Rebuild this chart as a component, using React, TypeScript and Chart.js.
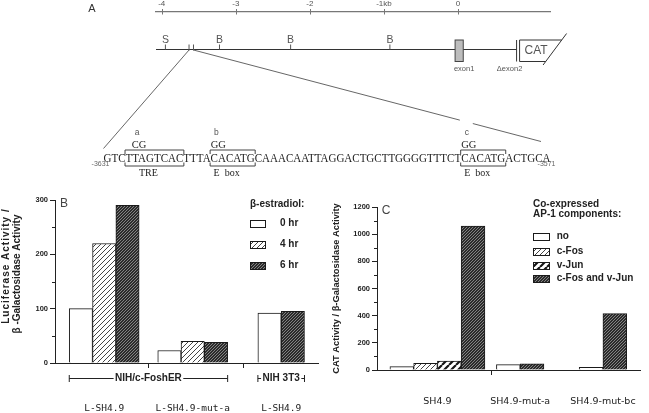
import React, { useEffect, useRef } from 'react';
import { Chart, registerables } from 'chart.js';

Chart.register(...registerables);

// ---------- Panel A : promoter map ----------
const mapTickValues = [-4, -3, -2, -1, 0];
const mapTickLabels = ['-4', '-3', '-2', '-1kb', '0'];
const mapSiteLabels = ['S', 'B', 'B', 'B'];
const mapSiteKb = [-3.95, -3.22, -2.26, -0.92];
const zoomRegionKb = [-3.631, -3.571];
const exon1Kb = [-0.04, 0.07];
const exon2Kb = 0.79;
const promoterSequence = 'GTCTTAGTCACTTTACACATGCAAACAATTAGGACTGCTTGGGGTTTCTCACATGACTGCA';
const sequenceEndLabels = ['-3631', '-3571'];
const motifNames = ['TRE', 'E  box', 'E  box'];
const motifFrom = [3, 15, 49];
const motifTo = [10, 20, 54];
const mutationTags = ['a', 'b', 'c'];
const mutationBases = ['CG', 'GG', 'GG'];
const mutationAt = [4, 15, 49];

// ---------- Panel B ----------
const bCategories = ['L-SH4.9', 'L-SH4.9-mut-a', 'L-SH4.9'];
const bSeriesNames = ['0 hr', '4 hr', '6 hr'];
const b0hr = [100, 23, 92];
const b4hr = [220, 40, null];
const b6hr = [290, 38, 95];
const bCellLines = ['NIH/c-FoshER', 'NIH 3T3'];
const bCellLineFrom = [0, 2];
const bCellLineTo = [1, 2];
const bYTitle = ['Luciferase Activity /', 'β -Galactosidase Activity'];

// ---------- Panel C ----------
const cCategories = ['SH4.9', 'SH4.9-mut-a', 'SH4.9-mut-bc'];
const cSeriesNames = ['no', 'c-Fos', 'v-Jun', 'c-Fos and v-Jun'];
const cNone = [25, 40, 20];
const cFos = [50, null, null];
const cJun = [65, null, null];
const cFosJun = [1060, 45, 415];
const cYTitle = 'CAT Activity / β-Galactosidase Activity';

const SANS = '"Liberation Sans", Arial, sans-serif';
const SERIF = '"Liberation Serif", "Times New Roman", serif';

function seg(ctx: any, x1: number, y1: number, x2: number, y2: number) {
  ctx.beginPath();
  ctx.moveTo(x1, y1);
  ctx.lineTo(x2, y2);
  ctx.stroke();
}

function makePattern(kind: string): any {
  if (kind === 'white') return '#ffffff';
  const size = kind === 'light' ? 5 : kind === 'bold' ? 7 : 3;
  const c = document.createElement('canvas');
  c.width = size;
  c.height = size;
  const g = c.getContext('2d') as CanvasRenderingContext2D;
  g.fillStyle = kind === 'dark' ? '#2b2b2b' : '#ffffff';
  g.fillRect(0, 0, size, size);
  g.strokeStyle = kind === 'dark' ? '#9a9a9a' : '#151515';
  g.lineWidth = kind === 'bold' ? 2.2 : 0.8;
  g.beginPath();
  for (const o of [-size, 0, size]) {
    g.moveTo(o, size);
    g.lineTo(o + size, 0);
  }
  g.stroke();
  return g.createPattern(c, 'repeat');
}

const mapPlugin = {
  id: 'promoterMap',
  afterDraw(chart: any) {
    const { ctx, chartArea } = chart;
    const xs = chart.scales.x;
    const px = (kb: number) => xs.getPixelForValue(kb);
    const lineY = 49.5;
    ctx.save();
    ctx.strokeStyle = '#777';
    ctx.lineWidth = 1;
    mapTickValues.forEach((v) => {
      const x = Math.round(px(v)) + 0.5;
      seg(ctx, x, 9, x, 14.5);
    });
    ctx.fillStyle = '#333';
    ctx.font = `11px ${SANS}`;
    ctx.textAlign = 'center';
    ctx.textBaseline = 'middle';
    ctx.fillText('A', 92, 8.5);
    const e2 = px(exon2Kb);
    ctx.strokeStyle = '#333';
    ctx.lineWidth = 1.2;
    seg(ctx, chartArea.left, lineY, e2, lineY);
    ctx.lineWidth = 1;
    ctx.strokeStyle = '#555';
    ctx.fillStyle = '#555';
    ctx.font = `10.5px ${SANS}`;
    mapSiteKb.forEach((kb, i) => {
      const x = px(kb);
      seg(ctx, x, lineY - 5, x, lineY);
      ctx.fillText(mapSiteLabels[i], x, 40.5);
    });
    zoomRegionKb.forEach((kb) => {
      const x = px(kb);
      seg(ctx, x, 44.5, x, lineY + 1);
    });
    const x0 = px(exon1Kb[0]);
    const x1 = px(exon1Kb[1]);
    ctx.fillStyle = '#bdbdbd';
    ctx.fillRect(x0, 40, x1 - x0, 21.5);
    ctx.strokeStyle = '#444';
    ctx.strokeRect(x0, 40, x1 - x0, 21.5);
    ctx.strokeStyle = '#333';
    seg(ctx, e2, 40, e2, 61.5);
    seg(ctx, e2 + 3, 40, e2 + 3, 61.5);
    const dTx = e2 + 50, dTy = 33.5, dBx = e2 + 26.5, dBy = 65;
    const atY = (y: number) => dTx + ((y - dTy) * (dBx - dTx)) / (dBy - dTy);
    seg(ctx, e2 + 3, 40, atY(40), 40);
    seg(ctx, e2 + 3, 61.5, atY(61.5), 61.5);
    seg(ctx, dTx, dTy, dBx, dBy);
    ctx.fillStyle = '#555';
    ctx.font = `12px ${SANS}`;
    ctx.textAlign = 'left';
    ctx.fillText('CAT', e2 + 8, 51);
    ctx.font = `7.5px ${SANS}`;
    ctx.textAlign = 'center';
    ctx.fillText('exon1', (x0 + x1) / 2 + 5, 68.5);
    ctx.fillText('Δexon2', e2 - 7, 68.5);

    const seqLeft = 103.5;
    const seqRight = 550.5;
    const base = 162;
    ctx.font = `11.5px ${SERIF}`;
    const natural = ctx.measureText(promoterSequence).width;
    const sx = (seqRight - seqLeft) / natural;
    const charX = (i: number) => seqLeft + ctx.measureText(promoterSequence.slice(0, i)).width * sx;
    const marks = motifFrom.map((f, k) => ({
      l: charX(f) - 0.5,
      r: charX(motifTo[k] + 1) + 0.5,
      m: (charX(mutationAt[k]) + charX(mutationAt[k] + 2)) / 2,
    }));
    ctx.save();
    ctx.translate(seqLeft, base);
    ctx.scale(sx, 1);
    ctx.textAlign = 'left';
    ctx.textBaseline = 'alphabetic';
    ctx.fillStyle = '#222';
    ctx.fillText(promoterSequence, 0, 0);
    ctx.restore();

    ctx.strokeStyle = '#444';
    ctx.lineWidth = 1;
    marks.forEach((mk, k) => {
      ctx.beginPath();
      ctx.moveTo(mk.l, 154);
      ctx.lineTo(mk.l, 150);
      ctx.lineTo(mk.r, 150);
      ctx.lineTo(mk.r, 154);
      ctx.stroke();
      ctx.beginPath();
      ctx.moveTo(mk.l, 162.5);
      ctx.lineTo(mk.l, 166);
      ctx.lineTo(mk.r, 166);
      ctx.lineTo(mk.r, 162.5);
      ctx.stroke();
      ctx.fillStyle = '#222';
      ctx.textAlign = 'center';
      ctx.textBaseline = 'alphabetic';
      ctx.font = `10px ${SERIF}`;
      ctx.fillText(motifNames[k], (mk.l + mk.r) / 2 - 6, 175.5);
      ctx.font = `10.5px ${SERIF}`;
      ctx.fillText(mutationBases[k], mk.m, 147.5);
      ctx.fillStyle = '#555';
      ctx.font = `8.5px ${SANS}`;
      ctx.fillText(mutationTags[k], mk.m - 2, 135);
    });
    ctx.fillStyle = '#666';
    ctx.font = `7px ${SANS}`;
    ctx.textBaseline = 'middle';
    ctx.fillText(sequenceEndLabels[0], seqLeft - 3, 164.5);
    ctx.fillText(sequenceEndLabels[1], seqRight - 4, 164.5);

    ctx.strokeStyle = '#555';
    ctx.lineWidth = 0.9;
    seg(ctx, px(zoomRegionKb[0]), lineY + 0.5, seqLeft, 148.5);
    const sx0 = px(zoomRegionKb[1]);
    const sy0 = lineY + 0.5;
    const ex = seqRight - 9.5;
    const ey = 141.5;
    const cx = marks[2].m - 2;
    const pt = (x: number) => sy0 + ((x - sx0) * (ey - sy0)) / (ex - sx0);
    seg(ctx, sx0, sy0, cx - 7, pt(cx - 7));
    seg(ctx, cx + 6, pt(cx + 6), ex, ey);
    ctx.restore();
  },
};

function drawMinorTicks(chart: any) {
  const ys = chart.scales.y;
  const ctx = chart.ctx;
  const vals = ys.ticks.map((t: any) => t.value);
  ctx.strokeStyle = '#222';
  ctx.lineWidth = 1;
  for (let i = 0; i < vals.length - 1; i++) {
    const y = Math.round(ys.getPixelForValue((vals[i] + vals[i + 1]) / 2)) + 0.5;
    seg(ctx, ys.right - 3, y, ys.right, y);
  }
}

function groupExtents(chart: any, series: any[][]) {
  const ext: { l: number; r: number }[] = [];
  for (let i = 0; i < series[0].length; i++) {
    let l = Infinity;
    let r = -Infinity;
    series.forEach((arr, d) => {
      if (arr[i] == null) return;
      const el: any = chart.getDatasetMeta(d).data[i];
      l = Math.min(l, el.x - el.width / 2);
      r = Math.max(r, el.x + el.width / 2);
    });
    ext.push({ l, r });
  }
  return ext;
}

function drawBoundaryTicks(chart: any, ext: { l: number; r: number }[], which: number[]) {
  const ctx = chart.ctx;
  const bottom = chart.chartArea.bottom;
  ctx.strokeStyle = '#222';
  ctx.lineWidth = 1;
  which.forEach((g) => {
    const x = Math.round((ext[g].r + ext[g + 1].l) / 2) + 0.5;
    seg(ctx, x, bottom, x, bottom + 5);
  });
}

function drawLetter(chart: any, letter: string) {
  const { ctx, chartArea } = chart;
  ctx.fillStyle = '#444';
  ctx.font = `12px ${SANS}`;
  ctx.textAlign = 'center';
  ctx.textBaseline = 'middle';
  ctx.fillText(letter, chartArea.left + 9, chartArea.top + 3.5);
}

function drawLegend(chart: any, o: any) {
  const ctx = chart.ctx;
  ctx.fillStyle = '#222';
  ctx.font = `bold 10px ${SANS}`;
  ctx.textAlign = 'left';
  ctx.textBaseline = 'middle';
  o.titles.forEach((t: string, i: number) => ctx.fillText(t, o.x, o.titleY[i]));
  chart.data.datasets.forEach((ds: any, i: number) => {
    const y = Math.round(o.boxY[i] - 3.5) + 0.5;
    ctx.fillStyle = ds.backgroundColor;
    ctx.fillRect(o.x + 0.5, y, o.boxW, 7);
    ctx.strokeStyle = '#1a1a1a';
    ctx.lineWidth = 1;
    ctx.strokeRect(o.x + 0.5, y, o.boxW, 7);
    ctx.fillStyle = '#222';
    ctx.fillText(ds.label, o.labelX, o.boxY[i]);
  });
}

const bPlugin = {
  id: 'panelB',
  afterDraw(chart: any) {
    const ctx = chart.ctx;
    ctx.save();
    drawMinorTicks(chart);
    const ext = groupExtents(chart, [b0hr, b4hr, b6hr]);
    drawBoundaryTicks(chart, ext, [0, 1]);
    drawLetter(chart, 'B');
    drawLegend(chart, { x: 250, titles: ['β-estradiol:'], titleY: [14], boxY: [33.7, 54.5, 75], boxW: 15, labelX: 280 });
    ctx.fillStyle = '#222';
    ctx.textAlign = 'center';
    ctx.textBaseline = 'middle';
    const lines = [
      { x: 6, y: 76, spacing: '1px' },
      { x: 17.5, y: 84, spacing: '0px' },
    ];
    bYTitle.forEach((t, i) => {
      ctx.save();
      ctx.translate(lines[i].x, lines[i].y);
      ctx.rotate(-Math.PI / 2);
      ctx.font = `bold 10px ${SANS}`;
      (ctx as any).letterSpacing = lines[i].spacing;
      ctx.fillText(t, 0, 0);
      ctx.restore();
    });
    const y = 188.5;
    ctx.font = `bold 10px ${SANS}`;
    ctx.strokeStyle = '#222';
    ctx.lineWidth = 1;
    bCellLines.forEach((name, k) => {
      const l = ext[bCellLineFrom[k]].l;
      const r = ext[bCellLineTo[k]].r;
      const c = (l + r) / 2;
      const w = ctx.measureText(name).width;
      ctx.fillStyle = '#222';
      ctx.fillText(name, c, y);
      seg(ctx, l, y, c - w / 2 - 1.5, y);
      seg(ctx, c + w / 2 + 1.5, y, r, y);
      seg(ctx, l, y - 3.5, l, y + 3.5);
      seg(ctx, r, y - 3.5, r, y + 3.5);
    });
    ctx.restore();
  },
};

const cPlugin = {
  id: 'panelC',
  afterDraw(chart: any) {
    const ctx = chart.ctx;
    ctx.save();
    drawMinorTicks(chart);
    const ext = groupExtents(chart, [cNone, cFos, cJun, cFosJun]);
    drawBoundaryTicks(chart, ext, [0]);
    drawLetter(chart, 'C');
    drawLegend(chart, {
      x: 203,
      titles: ['Co-expressed', 'AP-1 components:'],
      titleY: [14, 24.5],
      boxY: [46, 61.3, 75, 88.3],
      boxW: 16,
      labelX: 226.7,
    });
    ctx.restore();
  },
};

function yAxis(max: number, step: number, width: number, title?: string): any {
  return {
    min: 0,
    max,
    ticks: {
      stepSize: step,
      padding: 2,
      color: '#222',
      font: { family: SANS, size: 7.5, weight: 'bold' },
      callback: (v: any) => String(v),
    },
    grid: { drawOnChartArea: false, drawTicks: true, tickLength: 5, color: '#222' },
    border: { display: true, color: '#222', width: 1 },
    title: title
      ? { display: true, text: title, color: '#222', font: { family: SANS, size: 9.3, weight: 'bold' }, padding: { top: 1, bottom: 0 } }
      : { display: false },
    afterFit: (s: any) => {
      s.width = width;
    },
  };
}

function xAxis(cats: string[], min: number, max: number, height: number, pad: number, family: string): any {
  return {
    type: 'linear',
    min,
    max,
    bounds: 'data',
    offset: false,
    grid: { display: false, drawTicks: false },
    border: { display: true, color: '#222', width: 1 },
    afterBuildTicks: (s: any) => {
      s.ticks = cats.map((_, i) => ({ value: i }));
    },
    afterFit: (s: any) => {
      s.height = height;
      s.paddingLeft = 0;
      s.paddingRight = 0;
    },
    ticks: {
      autoSkip: false,
      maxRotation: 0,
      minRotation: 0,
      padding: pad,
      color: '#222',
      font: { family, size: 9.5 },
      callback: (_v: any, i: number) => cats[i],
    },
  };
}

export default function App() {
  const aRef = useRef<HTMLCanvasElement>(null);
  const bRef = useRef<HTMLCanvasElement>(null);
  const cRef = useRef<HTMLCanvasElement>(null);

  useEffect(() => {
    const white = makePattern('white');
    const light = makePattern('light');
    const bold = makePattern('bold');
    const dark = makePattern('dark');
    const barStyle = (thickness: number) => ({ barThickness: thickness, skipNull: true, borderWidth: 1, borderColor: '#1a1a1a' });
    const toPts = (arr: (number | null)[]) => arr.map((v, i) => ({ x: i, y: v }));

    const chartA = new Chart(aRef.current as HTMLCanvasElement, {
      type: 'scatter',
      data: { datasets: [] },
      options: {
        responsive: false,
        animation: false,
        layout: { padding: { left: 156, right: 99, top: 0, bottom: 0 } },
        plugins: { legend: { display: false }, tooltip: { enabled: false } },
        scales: {
          x: {
            type: 'linear',
            position: 'top',
            min: -4.077,
            max: 1.241,
            bounds: 'data',
            grid: { display: false, drawTicks: false },
            border: { display: true, color: '#777', width: 1.2 },
            afterBuildTicks: (s: any) => {
              s.ticks = mapTickValues.map((v) => ({ value: v }));
            },
            afterFit: (s: any) => {
              s.height = 12;
              s.paddingLeft = 0;
              s.paddingRight = 0;
            },
            ticks: {
              autoSkip: false,
              maxRotation: 0,
              padding: 3,
              color: '#555',
              font: { family: SANS, size: 8 },
              callback: (_v: any, i: number) => mapTickLabels[i],
            },
          } as any,
          y: { display: false, min: 0, max: 1 },
        },
      } as any,
      plugins: [mapPlugin],
    });

    const bFills = [white, light, dark];
    const chartB = new Chart(bRef.current as HTMLCanvasElement, {
      type: 'bar',
      data: {
        datasets: [b0hr, b4hr, b6hr].map((arr, i) => ({
          label: bSeriesNames[i],
          data: toPts(arr),
          backgroundColor: bFills[i],
          ...barStyle(23.3),
        })),
      } as any,
      options: {
        responsive: false,
        animation: false,
        layout: { padding: { left: 0, right: 12, top: 10, bottom: 0 } },
        plugins: { legend: { display: false }, tooltip: { enabled: false } },
        scales: {
          x: xAxis(bCategories, -0.556, 2.416, 50, 39.5, '"DejaVu Sans Mono", monospace'),
          y: yAxis(300, 100, 55),
        },
      } as any,
      plugins: [bPlugin],
    });

    const cFills = [white, light, bold, dark];
    const chartC = new Chart(cRef.current as HTMLCanvasElement, {
      type: 'bar',
      data: {
        datasets: [cNone, cFos, cJun, cFosJun].map((arr, i) => ({
          label: cSeriesNames[i],
          data: toPts(arr),
          backgroundColor: cFills[i],
          ...barStyle(23.75),
        })),
      } as any,
      options: {
        responsive: false,
        animation: false,
        layout: { padding: { left: 0, right: 9, top: 17, bottom: 0 } },
        plugins: { legend: { display: false }, tooltip: { enabled: false } },
        scales: {
          x: xAxis(cCategories, -0.73, 2.448, 43, 26, '"DejaVu Sans", sans-serif'),
          y: yAxis(1200, 200, 47, cYTitle),
        },
      } as any,
      plugins: [cPlugin],
    });

    return () => {
      chartA.destroy();
      chartB.destroy();
      chartC.destroy();
    };
  }, []);

  return (
    <div style={{ position: 'fixed', left: 0, top: 0, width: 649, height: 413, background: '#fff', overflow: 'hidden' }}>
      <canvas ref={aRef} width={649} height={190} style={{ position: 'absolute', left: 0, top: 0 }} />
      <canvas ref={bRef} width={330} height={223} style={{ position: 'absolute', left: 0, top: 190 }} />
      <canvas ref={cRef} width={319} height={223} style={{ position: 'absolute', left: 330, top: 190 }} />
    </div>
  );
}
